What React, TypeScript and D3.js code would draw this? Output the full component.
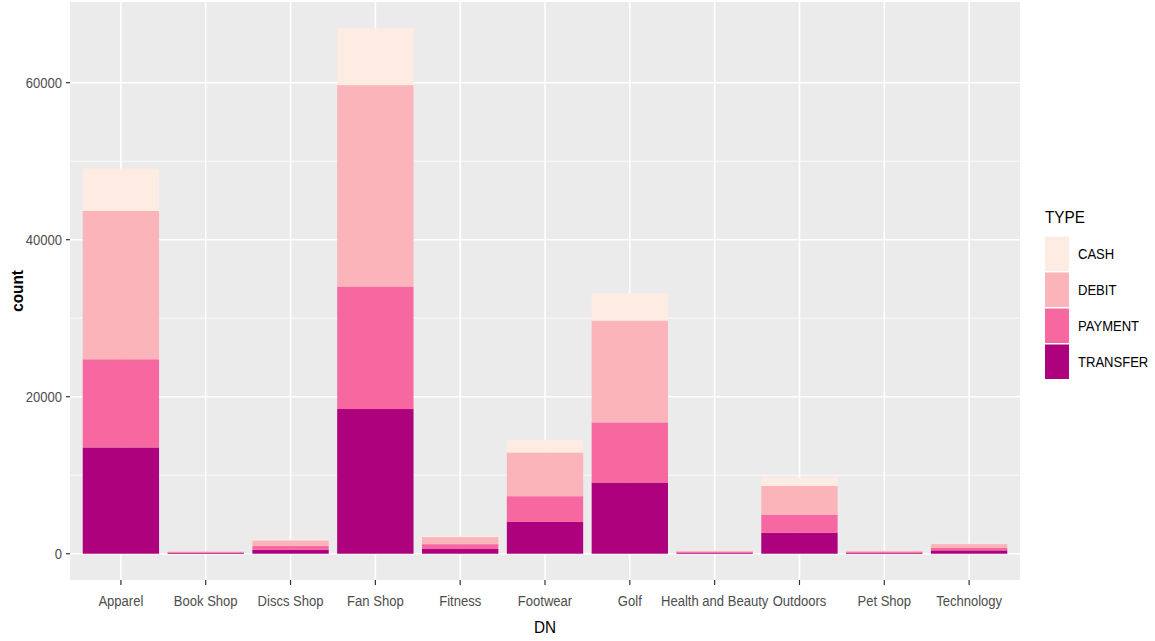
import React from "react";
import * as d3 from "d3";

const categories = ["Apparel", "Book Shop", "Discs Shop", "Fan Shop", "Fitness", "Footwear", "Golf", "Health and Beauty", "Outdoors", "Pet Shop", "Technology"];
const types = ["CASH", "DEBIT", "PAYMENT", "TRANSFER"];
const transferValues = [13540, 110, 520, 18430, 600, 4050, 9075, 140, 2690, 130, 430];
const paymentValues = [11230, 90, 460, 15610, 620, 3280, 7655, 110, 2300, 110, 300];
const debitValues = [18890, 90, 730, 25650, 900, 5570, 12970, 120, 3650, 130, 500];
const cashValues = [5400, 20, 130, 7240, 150, 1570, 3500, 30, 1070, 30, 60];
const yTicks = [0, 20000, 40000, 60000];
const yMinor = [10000, 30000, 50000];
const colors = ["#FEEBE2", "#FBB4B9", "#F768A1", "#AE017E"];

const W = 1155, H = 641;
const panel = { left: 70, right: 1020, top: 2, bottom: 580 };
const SX = 0.9;

function T({ x, y, anchor = "start", size = 14.5, fill = "#4D4D4D", dy, weight, children }: any) {
  return (
    <text transform={`translate(${x},${y}) scale(${SX},1)`} textAnchor={anchor} fontSize={size} fill={fill} dy={dy} fontWeight={weight}>
      {children}
    </text>
  );
}

export default function App() {
  const rows = categories.map((c, i) => ({
    DN: c,
    TRANSFER: transferValues[i],
    PAYMENT: paymentValues[i],
    DEBIT: debitValues[i],
    CASH: cashValues[i],
  }));
  const stackKeys = ["TRANSFER", "PAYMENT", "DEBIT", "CASH"];
  const series = d3.stack<any>().keys(stackKeys)(rows);
  const maxTotal = d3.max(rows, (r) => r.TRANSFER + r.PAYMENT + r.DEBIT + r.CASH) as number;
  const y = d3.scaleLinear().domain([-0.05 * maxTotal, 1.05 * maxTotal]).range([panel.bottom, panel.top]);
  const n = categories.length;
  const unit = (panel.right - panel.left) / (n - 1 + 1.2);
  const x = (i: number) => panel.left + (0.6 + i) * unit;
  const bw = 0.9 * unit;
  const colorOf = (k: string) => colors[types.indexOf(k)];
  const font = "'Liberation Sans', Arial, sans-serif";

  return (
    <svg width={W} height={H} style={{ position: "absolute", left: 0, top: 0, background: "#fff" }} fontFamily={font}>
      <rect x={panel.left} y={panel.top} width={panel.right - panel.left} height={panel.bottom - panel.top} fill="#EBEBEB" />
      {yMinor.map((t) => (
        <line key={"m" + t} x1={panel.left} x2={panel.right} y1={y(t)} y2={y(t)} stroke="#fff" strokeWidth={0.8} />
      ))}
      {yTicks.map((t) => (
        <line key={"g" + t} x1={panel.left} x2={panel.right} y1={y(t)} y2={y(t)} stroke="#fff" strokeWidth={1.6} />
      ))}
      {categories.map((c, i) => (
        <line key={"v" + c} x1={x(i)} x2={x(i)} y1={panel.top} y2={panel.bottom} stroke="#fff" strokeWidth={1.6} />
      ))}
      {series.map((s) => (
        <g key={s.key} fill={colorOf(s.key)}>
          {s.map((d, i) => (
            <rect key={i} x={x(i) - bw / 2} width={bw} y={y(d[1])} height={Math.max(0, y(d[0]) - y(d[1]))} />
          ))}
        </g>
      ))}
      {yTicks.map((t) => (
        <g key={"yt" + t}>
          <line x1={panel.left - 4} x2={panel.left} y1={y(t)} y2={y(t)} stroke="#333" strokeWidth={1.2} />
          <T x={panel.left - 8} y={y(t)} dy="0.36em" anchor="end">{t}</T>
        </g>
      ))}
      {categories.map((c, i) => (
        <g key={"xt" + c}>
          <line x1={x(i)} x2={x(i)} y1={panel.bottom} y2={panel.bottom + 5} stroke="#333" strokeWidth={1.2} />
          <T x={x(i)} y={606} anchor="middle">{c}</T>
        </g>
      ))}
      <T x={(panel.left + panel.right) / 2} y={633} anchor="middle" size={17} fill="#000">DN</T>
      <text transform={`translate(23, ${(panel.top + panel.bottom) / 2}) rotate(-90) scale(${SX},1)`} textAnchor="middle" fontSize={17} fontWeight="bold" fill="#000">count</text>
      <T x={1045} y={223} size={17} fill="#000">TYPE</T>
      {types.map((t, i) => (
        <g key={"lg" + t}>
          <rect x={1045} y={236.5 + i * 36} width={24} height={34.5} fill={colors[i]} />
          <T x={1078} y={236.5 + i * 36 + 17.5} dy="0.36em" size={14.5} fill="#000">{t}</T>
        </g>
      ))}
    </svg>
  );
}
